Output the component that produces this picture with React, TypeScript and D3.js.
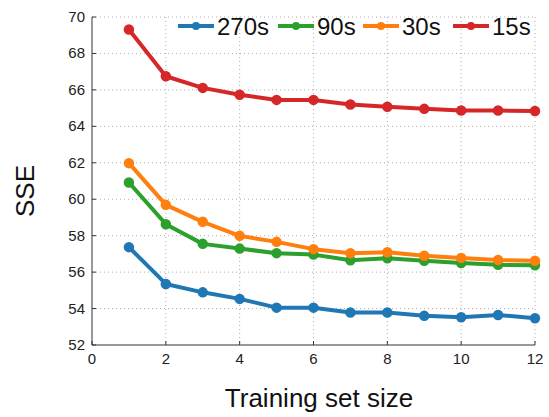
import { useEffect, useRef } from 'react';
import * as d3 from 'd3';

const trainingSizes = [1, 2, 3, 4, 5, 6, 7, 8, 9, 10, 11, 12];
const seriesNames = ['270s', '90s', '30s', '15s'];
const seriesColors = ['#1f77b4', '#2ca02c', '#ff7f0e', '#d62728'];
const sse270 = [57.37, 55.35, 54.89, 54.53, 54.05, 54.05, 53.78, 53.78, 53.6, 53.52, 53.65, 53.47];
const sse90 = [60.92, 58.63, 57.55, 57.29, 57.04, 56.96, 56.65, 56.76, 56.62, 56.5, 56.4, 56.38];
const sse30 = [61.98, 59.69, 58.76, 57.99, 57.66, 57.26, 57.04, 57.09, 56.9, 56.78, 56.67, 56.62];
const sse15 = [69.31, 66.75, 66.11, 65.73, 65.45, 65.45, 65.2, 65.07, 64.96, 64.87, 64.87, 64.84];
const xTicks = [0, 2, 4, 6, 8, 10, 12];
const yTicks = [52, 54, 56, 58, 60, 62, 64, 66, 68, 70];

export default function App() {
  const ref = useRef<SVGSVGElement>(null);

  useEffect(() => {
    if (!ref.current) return;
    const svg = d3.select(ref.current);
    svg.selectAll('*').remove();

    const font = 'Arial, "Liberation Sans", sans-serif';
    const margin = { top: 17, right: 14, bottom: 72, left: 92 };
    const W = 549, H = 417;
    const width = W - margin.left - margin.right;
    const height = H - margin.top - margin.bottom;

    const x = d3.scaleLinear().domain([0, 12]).range([0, width]);
    const y = d3.scaleLinear().domain([52, 70]).range([height, 0]);

    svg.append('rect').attr('width', W).attr('height', H).attr('fill', '#fff');

    const g = svg.append('g').attr('transform', `translate(${margin.left},${margin.top})`);

    // dotted grid
    g.selectAll('.vgrid')
      .data(xTicks.filter(d => d > 0))
      .join('line')
      .attr('x1', d => x(d)).attr('x2', d => x(d))
      .attr('y1', 0).attr('y2', height)
      .attr('stroke', '#999').attr('stroke-width', 0.8)
      .attr('stroke-dasharray', '1,3');
    g.selectAll('.hgrid')
      .data(yTicks.filter(d => d > 52))
      .join('line')
      .attr('x1', 0).attr('x2', width)
      .attr('y1', d => y(d)).attr('y2', d => y(d))
      .attr('stroke', '#999').attr('stroke-width', 0.8)
      .attr('stroke-dasharray', '1,3');

    // axes (left + bottom only)
    g.append('line').attr('x1', 0).attr('x2', width).attr('y1', height).attr('y2', height)
      .attr('stroke', '#333').attr('stroke-width', 1);
    g.append('line').attr('x1', 0).attr('x2', 0).attr('y1', 0).attr('y2', height)
      .attr('stroke', '#333').attr('stroke-width', 1);
    g.selectAll('.xtick')
      .data(xTicks)
      .join('line')
      .attr('x1', d => x(d)).attr('x2', d => x(d))
      .attr('y1', height).attr('y2', height - 4)
      .attr('stroke', '#333');
    g.selectAll('.ytick')
      .data(yTicks)
      .join('line')
      .attr('x1', 0).attr('x2', 4)
      .attr('y1', d => y(d)).attr('y2', d => y(d))
      .attr('stroke', '#333');

    g.selectAll('.xlabel')
      .data(xTicks)
      .join('text')
      .attr('x', d => x(d)).attr('y', height + 19)
      .attr('text-anchor', 'middle')
      .style('font-family', font).style('font-size', '15px').style('fill', '#222')
      .text(d => d);
    g.selectAll('.ylabel')
      .data(yTicks)
      .join('text')
      .attr('x', -7).attr('y', d => y(d)).attr('dy', '0.33em')
      .attr('text-anchor', 'end')
      .style('font-family', font).style('font-size', '15px').style('fill', '#222')
      .text(d => d);

    svg.append('text')
      .attr('x', 319).attr('y', 407)
      .attr('text-anchor', 'middle')
      .style('font-family', font).style('font-size', '26px').style('fill', '#111')
      .text('Training set size');
    svg.append('text')
      .attr('transform', `translate(34,191) rotate(-90)`)
      .attr('text-anchor', 'middle')
      .style('font-family', font).style('font-size', '26px').style('fill', '#111')
      .text('SSE');

    // series
    const allSeries = [sse270, sse90, sse30, sse15];
    const line = d3.line<number>()
      .x((_, i) => x(trainingSizes[i]))
      .y(d => y(d));

    allSeries.forEach((vals, si) => {
      const c = seriesColors[si];
      g.append('path')
        .datum(vals)
        .attr('fill', 'none')
        .attr('stroke', c)
        .attr('stroke-width', 4)
        .attr('stroke-linejoin', 'round')
        .attr('d', line);
      g.selectAll(`.dot${si}`)
        .data(vals)
        .join('circle')
        .attr('cx', (_, i) => x(trainingSizes[i]))
        .attr('cy', d => y(d))
        .attr('r', 4.5)
        .attr('fill', c)
        .attr('stroke', c)
        .attr('stroke-width', 1.5);
    });

    // legend, no box
    const legendX = [178, 278, 363, 453];
    const legendY = 26;
    seriesNames.forEach((name, i) => {
      const lx = legendX[i];
      svg.append('line')
        .attr('x1', lx).attr('x2', lx + 36)
        .attr('y1', legendY).attr('y2', legendY)
        .attr('stroke', seriesColors[i]).attr('stroke-width', 4);
      svg.append('circle')
        .attr('cx', lx + 18).attr('cy', legendY).attr('r', 4)
        .attr('fill', seriesColors[i]);
      svg.append('text')
        .attr('x', lx + 39).attr('y', legendY).attr('dy', '0.36em')
        .style('font-family', font).style('font-size', '24px').style('fill', '#111')
        .text(name);
    });
  }, []);

  return (
    <div style={{ position: 'absolute', left: 0, top: 0 }}>
      <svg ref={ref} width={549} height={417} style={{ display: 'block' }} />
    </div>
  );
}
